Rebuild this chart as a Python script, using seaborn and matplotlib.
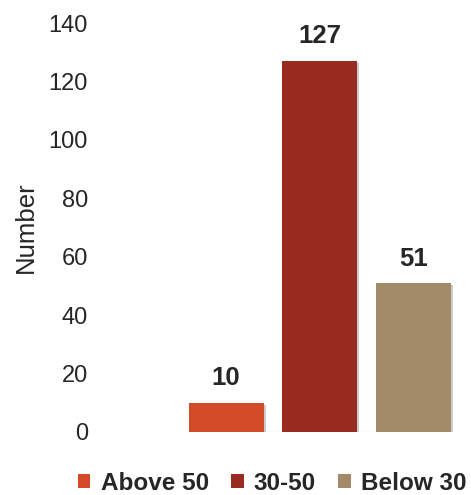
import matplotlib
matplotlib.use("Agg")
import matplotlib.pyplot as plt
import matplotlib.patheffects as pe
from matplotlib.patches import Patch
import seaborn as sns
import pandas as pd

# Age groups and their counts
categories = ["Above 50", "30-50", "Below 30"]
counts = [10, 127, 51]
colors = ["#D14B28", "#992B21", "#A38B6A"]
y_ticks = [0, 20, 40, 60, 80, 100, 120, 140]

sns.set_theme(style="white")
plt.rcParams["font.family"] = ["Liberation Sans", "DejaVu Sans"]

df = pd.DataFrame({"group": categories, "count": counts})

fig = plt.figure(figsize=(4.71, 4.95), dpi=100)
ax = fig.add_axes([95 / 471, 63 / 495, 370 / 471, 409 / 495])

sns.barplot(data=df, x="group", y="count", hue="group", order=categories,
            hue_order=categories, palette=colors, dodge=False, width=0.8,
            legend=False, ax=ax, saturation=1)

shadow = [pe.SimplePatchShadow(offset=(1.5, -1.5), shadow_rgbFace="#555555", alpha=0.3),
          pe.Normal()]
for patch in ax.patches:
    patch.set_path_effects(shadow)
    patch.set_edgecolor("none")

for container in ax.containers:
    ax.bar_label(container, fmt="%d", padding=9, fontsize=18.5, fontweight="bold",
                 color="#262626")

ax.set_xlim(-1.4, 2.55)
ax.set_ylim(0, 140)
ax.set_yticks(y_ticks)
ax.set_yticklabels([str(v) for v in y_ticks], fontsize=17, color="#262626")
ax.set_xticks([])
ax.set_xlabel("")
ax.set_ylabel("Number", fontsize=18.5, color="#262626", labelpad=8)
ax.tick_params(axis="y", length=0, pad=5)
for side in ["left", "right", "top", "bottom"]:
    ax.spines[side].set_visible(False)
ax.hlines(0, -0.43, 2.42, color="#e6e6e6", linewidth=1, zorder=0)

handles = [Patch(facecolor=c, edgecolor="none") for c in colors]
fig.legend(handles, categories, loc="center", bbox_to_anchor=(272 / 471, 1 - 483 / 495),
           ncol=3, frameon=False, prop={"weight": "bold", "size": 17.5},
           handlelength=0.53, handleheight=0.53, handletextpad=0.42, columnspacing=0.9,
           labelcolor="#262626", borderpad=0, borderaxespad=0)

fig.savefig("out.png", dpi=100)
